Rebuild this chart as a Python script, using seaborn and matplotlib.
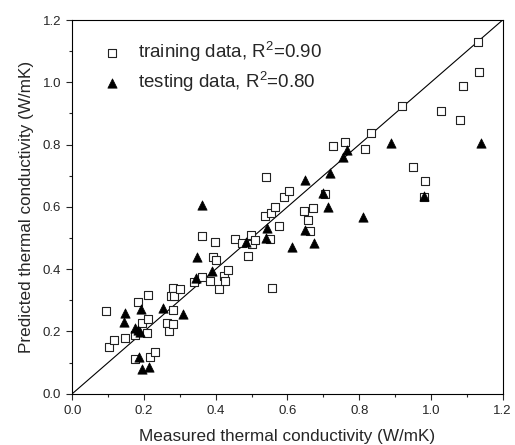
import matplotlib
matplotlib.use("Agg")
import matplotlib.pyplot as plt
import seaborn as sns
import pandas as pd
from matplotlib.ticker import MultipleLocator

train_x = [0.093, 0.103, 0.117, 0.148, 0.175, 0.176, 0.182, 0.212, 0.193, 0.207,
           0.210, 0.218, 0.231, 0.265, 0.270, 0.275, 0.280, 0.284, 0.282, 0.282,
           0.301, 0.340, 0.362, 0.363, 0.385, 0.392, 0.399, 0.400, 0.409, 0.423,
           0.427, 0.433, 0.453, 0.474, 0.491, 0.498, 0.501, 0.510, 0.537, 0.539,
           0.551, 0.554, 0.558, 0.565, 0.577, 0.590, 0.605, 0.646, 0.658, 0.662,
           0.672, 0.705, 0.727, 0.760, 0.817, 0.834, 0.918, 0.950, 0.984, 0.981,
           1.028, 1.082, 1.090, 1.130, 1.134]
train_y = [0.266, 0.151, 0.172, 0.178, 0.188, 0.113, 0.293, 0.317, 0.226, 0.194,
           0.239, 0.117, 0.135, 0.228, 0.201, 0.314, 0.341, 0.314, 0.269, 0.224,
           0.336, 0.358, 0.376, 0.507, 0.362, 0.440, 0.486, 0.430, 0.335, 0.378,
           0.362, 0.397, 0.498, 0.483, 0.442, 0.510, 0.482, 0.492, 0.571, 0.695,
           0.498, 0.579, 0.340, 0.599, 0.537, 0.633, 0.652, 0.587, 0.559, 0.523,
           0.595, 0.641, 0.797, 0.809, 0.785, 0.838, 0.925, 0.727, 0.683, 0.633,
           0.909, 0.880, 0.988, 1.130, 1.032]

test_x = [0.148, 0.145, 0.175, 0.183, 0.189, 0.192, 0.185, 0.194, 0.214, 0.254,
          0.310, 0.344, 0.348, 0.363, 0.389, 0.484, 0.541, 0.544, 0.614, 0.649,
          0.650, 0.674, 0.700, 0.712, 0.719, 0.754, 0.765, 0.811, 0.890, 0.981,
          1.140]
test_y = [0.258, 0.231, 0.210, 0.204, 0.197, 0.271, 0.119, 0.080, 0.087, 0.274,
          0.255, 0.372, 0.440, 0.606, 0.395, 0.488, 0.499, 0.532, 0.470, 0.526,
          0.686, 0.484, 0.645, 0.599, 0.708, 0.759, 0.782, 0.567, 0.806, 0.635,
          0.806]

labels = ["training data, R$^2$=0.90", "testing data, R$^2$=0.80"]

sns.set_style("ticks")
plt.rcParams['font.family'] = ['Liberation Sans', 'DejaVu Sans']
plt.rcParams['mathtext.fontset'] = 'custom'
plt.rcParams['mathtext.rm'] = 'Liberation Sans'

fig = plt.figure(figsize=(5.15, 4.45), dpi=100)
ax = fig.add_axes([0.1404, 0.1153, 0.8356, 0.8397])

df_train = pd.DataFrame({"x": train_x, "y": train_y})
df_test = pd.DataFrame({"x": test_x, "y": test_y})

sns.scatterplot(data=df_train, x="x", y="y", marker="s", s=30,
                facecolor="white", edgecolor="#222222", linewidth=0.8,
                label=labels[0], ax=ax, zorder=3)
sns.scatterplot(data=df_test, x="x", y="y", marker="^", s=45,
                color="black", edgecolor="black", linewidth=0.5,
                label=labels[1], ax=ax, zorder=4)

ax.plot([0, 1.2], [0, 1.2], color="black", lw=0.8, zorder=2)

ax.set_xlim(0, 1.2)
ax.set_ylim(0, 1.2)
ax.xaxis.set_major_locator(MultipleLocator(0.2))
ax.yaxis.set_major_locator(MultipleLocator(0.2))
ax.xaxis.set_minor_locator(MultipleLocator(0.1))
ax.yaxis.set_minor_locator(MultipleLocator(0.1))
ax.tick_params(which="major", direction="out", length=4.5, width=0.8, labelsize=9.5, pad=3.5)
ax.tick_params(which="minor", direction="out", length=2.5, width=0.8)
for sp in ax.spines.values():
    sp.set_linewidth(0.8)
    sp.set_color("black")

ax.set_xlabel("Measured thermal conductivity (W/mK)", fontsize=12.3, labelpad=9)
ax.set_ylabel("Predicted thermal conductivity (W/mK)", fontsize=12.3, labelpad=6)

leg = ax.legend(loc="upper left", frameon=False, fontsize=13.5,
                bbox_to_anchor=(0.022, 0.98), handletextpad=0.38,
                labelspacing=0.3, borderaxespad=0.2)
leg.legend_handles[0].set_sizes([30])
leg.legend_handles[1].set_sizes([45])

fig.savefig("out.png", dpi=100)
